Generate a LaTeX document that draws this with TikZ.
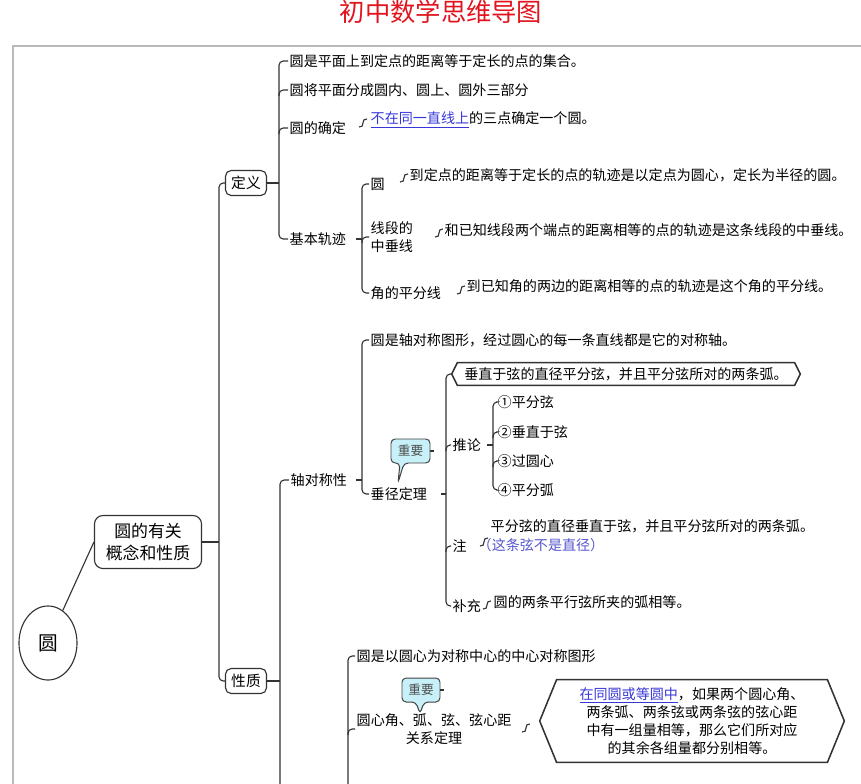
\documentclass[tikz,border=0pt]{standalone}
\usepackage{fontspec}
\setmainfont{Noto Sans CJK SC}
\usetikzlibrary{shapes.geometric}

\definecolor{linkblue}{RGB}{55,55,215}
\definecolor{noteblue}{RGB}{85,85,205}
\definecolor{titlered}{RGB}{225,20,30}
\definecolor{callfill}{RGB}{200,240,248}
\definecolor{framegray}{RGB}{185,185,185}

\tikzset{
  link/.style={draw=black!80, line width=0.8pt, rounded corners=3pt},
  txt/.style={anchor=west, inner sep=1pt, font=\fontsize{10}{13}\selectfont},
  box/.style={draw=black!80, line width=0.8pt, rounded corners=4pt, minimum width=1.025cm,
    minimum height=0.625cm, inner sep=1pt, font=\fontsize{10.5}{13}\selectfont},
  callout/.style={draw=black!75, fill=callfill, line width=0.7pt, rounded corners=3pt},
  calltext/.style={inner sep=0pt, minimum width=0.95cm, font=\fontsize{9}{9}\selectfont, text=black!70},
  hexline/.style={draw=black!80, line width=1.1pt},
  hk/.pic={\draw[line width=0.8pt, black!80] (-4,4) .. controls (-1,4) and (0,3) .. (0,0)
    .. controls (0,-3) and (1,-4) .. (4,-4);}
}

% hexagon round a node: name, chamfer
\newcommand\hexframe[2]{\draw[hexline] (#1.west) -- ([xshift=#2]#1.north west) -- ([xshift=-#2]#1.north east)
  -- (#1.east) -- ([xshift=-#2]#1.south east) -- ([xshift=#2]#1.south west) -- cycle;}
% short stub from a bracket line to a middle child
\newcommand\midstub[2]{\draw[link] (#1 |- #2.west) ++(0,6) |- (#2.west);}

\begin{document}
\begin{tikzpicture}[x=0.025cm, y=-0.025cm]
  \useasboundingbox (0,0) rectangle (861,783);

  \node[text=titlered, font=\fontsize{18}{18}\selectfont] (title) at (441,12) {初中数学思维导图};
  \draw[framegray, line width=1pt] (13,900) -- (13,46) -- (900,46);

  % root and first level
  \node[ellipse, draw=black!80, line width=0.8pt, minimum width=1.45cm, minimum height=1.85cm,
    inner sep=0pt, font=\fontsize{14}{14}\selectfont] (yuan) at (48,643) {圆};
  \node[box, minimum width=2.675cm, minimum height=1.325cm, rounded corners=6pt, align=center,
    font=\fontsize{12}{16}\selectfont] (gaishu) at (148,542) {圆的有关\\概念和性质};
  \draw[link] (yuan) -- (gaishu.west);

  \node[box] (dingyi) at (246,183) {定义};
  \node[box] (xingzhi) at (246,681) {性质};
  \coordinate (jg) at (219,542);
  \draw[link] (gaishu.east) -- (jg);
  \draw[link] (dingyi.west) -| (jg |- xingzhi.west) -- (xingzhi.west);

  % definition
  \node[txt] (d1) at (288,61) {圆是平面上到定点的距离等于定长的点的集合。};
  \node[txt] (d2) at (288,90) {圆将平面分成圆内、圆上、圆外三部分};
  \node[txt] (d3) at (288,128) {圆的确定};
  \node[txt] (d3a) at (369,120) {\textcolor{linkblue}{\underline{不在同一直线上}}的三点确定一个圆。};
  \node[txt] (d4) at (288,239) {基本轨迹};
  \coordinate (jd) at (279,183);
  \draw[link] (dingyi.east) -- (jd);
  \draw[link] (d1.west) -| (jd |- d4.west) -- (d4.west);
  \midstub{jd}{d2}
  \midstub{jd}{d3}
  \pic at (363,123) {hk};

  % loci
  \node[txt] (g1) at (369,184) {圆};
  \node[txt] (g1a) at (408,175) {到定点的距离等于定长的点的轨迹是以定点为圆心，定长为半径的圆。};
  \node[txt, align=left] (g2) at (369,237) {线段的\\中垂线};
  \node[txt] (g2a) at (443,230) {和已知线段两个端点的距离相等的点的轨迹是这条线段的中垂线。};
  \node[txt] (g3) at (369,293) {角的平分线};
  \node[txt] (g3a) at (465,286) {到已知角的两边的距离相等的点的轨迹是这个角的平分线。};
  \coordinate (jb) at (362,239);
  \draw[link] (jb) -- ++(-6,0);
  \draw[link] (g1.west) -| (jb |- g3.west) -- (g3.west);
  \midstub{jb}{g2}
  \pic at (404,178) {hk};
  \pic at (439,233) {hk};
  \pic at (461,290) {hk};

  % properties
  \coordinate (jx) at (280,681);
  \draw[link] (xingzhi.east) -- (jx);
  \node[txt] (zhou) at (289,480) {轴对称性};
  \draw[link] (zhou.west) -| (280,800);

  \node[txt] (z1) at (369,340) {圆是轴对称图形，经过圆心的每一条直线都是它的对称轴。};
  \node[txt] (chuijing) at (369,494) {垂径定理};
  \coordinate (jz) at (362,480);
  \draw[link] (jz) -- ++(-6,0);
  \draw[link] (z1.west) -| (jz |- chuijing.west) -- (chuijing.west);

  \draw[callout] (391,439) -- (430,439) -- (430,463) -- (404,463) -- (398,483) -- (400,463) -- (391,463) -- cycle;
  \node[calltext] (zhongyao1) at (410.5,451) {重要};
  \draw[link] (zhongyao1.east) -- ++(4,0);

  \node[txt, minimum width=8.7cm, minimum height=0.55cm, anchor=center] (h1) at (626,374)
    {垂直于弦的直径平分弦，并且平分弦所对的两条弧。};
  \hexframe{h1}{4pt}
  \node[txt] (tuilun) at (451,445) {推论};
  \node[txt] (zhu) at (451,546) {注};
  \node[txt] (buchong) at (451,606) {补充};
  \coordinate (jc) at (446,494);
  \draw[link] (jc) -- ++(-5,0);
  \draw[link] (h1.west) -| (jc |- buchong.west) -- (buchong.west);
  \midstub{jc}{tuilun}
  \midstub{jc}{zhu}

  \node[txt] (t1) at (496,402) {①平分弦};
  \node[txt] (t2) at (496,432) {②垂直于弦};
  \node[txt] (t3) at (496,461) {③过圆心};
  \node[txt] (t4) at (496,490) {④平分弧};
  \coordinate (jt) at (493,445);
  \draw[link] (jt) -- ++(-6,0);
  \draw[link] (t1.west) -| (jt |- t4.west) -- (t4.west);
  \midstub{jt}{t2}
  \midstub{jt}{t3}

  \node[txt] (zhua) at (489,526) {平分弦的直径垂直于弦，并且平分弦所对的两条弧。};
  \node[txt, text=noteblue] (zhub) at (476,545) {（这条弦不是直径）};
  \pic at (484,542) {hk};
  \node[txt] (buchonga) at (492,602) {圆的两条平行弦所夹的弧相等。};
  \pic at (487,605) {hk};

  % central symmetry
  \node[txt] (zx1) at (355,656) {圆是以圆心为对称中心的中心对称图形};
  \node[txt, align=center] (guanxi) at (355,729) {圆心角、弧、弦、弦心距\\关系定理};
  \draw[link] (zx1.west) -| (348,800);
  \coordinate (jy) at (348,729);
  \midstub{jy}{guanxi}

  \draw[callout] (402,678) -- (440,678) -- (440,702) -- (424,702) -- (420,714) -- (416,702) -- (402,702) -- cycle;
  \node[calltext] (zhongyao2) at (421,690) {重要};
  \draw[link] (zhongyao2.east) -- ++(4,0);

  \pic at (526,728) {hk};
  \node[txt, anchor=center, align=center, minimum width=7.6cm, minimum height=2.05cm,
    font=\fontsize{10}{12.8}\selectfont] (h2) at (692,721)
    {\textcolor{linkblue}{\underline{在同圆或等圆中}}，如果两个圆心角、\\两条弧、两条弦或两条弦的弦心距\\中有一组量相等，那么它们所对应\\的其余各组量都分别相等。};
  \hexframe{h2}{12pt}
\end{tikzpicture}
\end{document}
